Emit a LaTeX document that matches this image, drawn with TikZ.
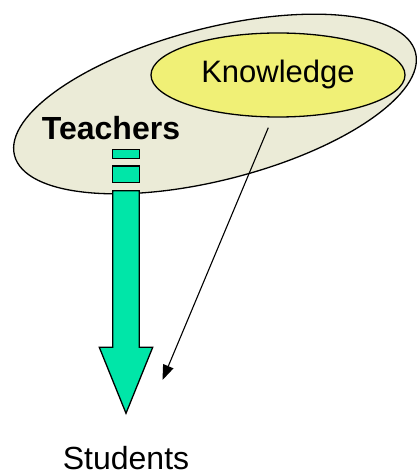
\documentclass[tikz,border=0pt]{standalone}
\usepackage{fontspec}
\setmainfont{Liberation Sans}
\usetikzlibrary{arrows.meta}
\definecolor{outerfill}{RGB}{235,235,215}
\definecolor{innerfill}{RGB}{240,240,118}
\definecolor{arrowgreen}{RGB}{0,230,168}
\begin{document}
\begin{tikzpicture}[x=1pt,y=1pt,
  blob/.style={draw=black,line width=1.3pt},
  label/.style={inner sep=0pt,anchor=base},
  greenpart/.style={draw=black,line width=1.3pt,fill=arrowgreen,line join=miter}]
\useasboundingbox (0,0) rectangle (416,475);
% outer ellipse (Teachers)
\draw[blob,fill=outerfill,rotate around={14.4:(215,371)}] (215,371) ellipse [x radius=207, y radius=76];
% inner ellipse (Knowledge)
\draw[blob,fill=innerfill] (278,400) ellipse [x radius=127, y radius=42];
\node[label,font=\fontsize{31}{37}\selectfont] (know) at (278,392.5) {Knowledge};
\node[label,font=\bfseries\fontsize{32}{38}\selectfont] (teach) at (111,335.5) {Teachers};
\node[label,font=\fontsize{32}{38}\selectfont] (stud) at (126,5.5) {Students};
% green block arrow
\draw[greenpart] (112.7,316.7) rectangle (139.3,325.7);
\draw[greenpart] (112.7,292.3) rectangle (139.3,309);
\draw[greenpart] (112.7,284.3) -- (139.3,284.3) -- (139.3,127.7) -- (152.7,127.7)
  -- (126,61.7) -- (99.3,127.7) -- (112.7,127.7) -- cycle;
% thin arrow
\coordinate (from) at (268.3,347.3);
\coordinate (to) at (162.5,95);
\draw[line width=1.1pt,-{Triangle[length=15pt,width=11pt]}] (from) -- (to);
\end{tikzpicture}
\end{document}
